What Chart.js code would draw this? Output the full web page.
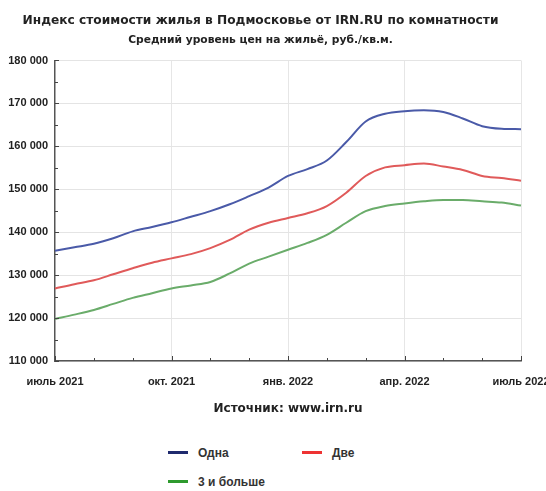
<!DOCTYPE html>
<html lang="ru">
<head>
<meta charset="utf-8">
<script src="https://cdn.jsdelivr.net/npm/chart.js@4.4.1/dist/chart.umd.min.js"></script>
<style>
  html, body { margin: 0; padding: 0; background: #fff; }
  #wrap { position: relative; width: 546px; height: 491px; }
  #chart-box { position: absolute; left: 0; top: 0; width: 546px; height: 420px; }
  .legend-item { position: absolute; font: bold 12px "Liberation Sans", Arial, sans-serif; color: #333; white-space: nowrap; }
  .legend-item span { display: inline-block; width: 20px; height: 3px; vertical-align: middle; margin-right: 10px; position: relative; top: -1px; }
</style>
</head>
<body>
<div id="wrap">
  <div id="chart-box"><canvas id="priceChart"></canvas></div>
  <div id="legend"></div>
</div>
<script>
// semi-monthly points, July 2021 - July 2022
const periods = [
  '2021-07-01', '2021-07-15', '2021-08-01', '2021-08-15', '2021-09-01', '2021-09-15',
  '2021-10-01', '2021-10-15', '2021-11-01', '2021-11-15', '2021-12-01', '2021-12-15',
  '2022-01-01', '2022-01-15', '2022-02-01', '2022-02-15', '2022-03-01', '2022-03-15',
  '2022-04-01', '2022-04-15', '2022-05-01', '2022-05-15', '2022-06-01', '2022-06-15',
  '2022-07-01'
];
const quarterLabels = ['июль 2021', 'окт. 2021', 'янв. 2022', 'апр. 2022', 'июль 2022'];

const oneRoom = [
  135700, 136500, 137300, 138600, 140200, 141200, 142300, 143600, 144900, 146500,
  148400, 150400, 153100, 154700, 156700, 161000, 165800, 167600, 168200, 168400,
  168000, 166500, 164700, 164100, 164000
];
const twoRooms = [
  126900, 127900, 128800, 130200, 131600, 132900, 133900, 134900, 136300, 138200,
  140600, 142200, 143300, 144400, 146100, 149200, 153100, 155100, 155600, 156000,
  155300, 154500, 153100, 152600, 152000
];
const threePlus = [
  119800, 120800, 121900, 123300, 124700, 125800, 126900, 127600, 128400, 130400,
  132700, 134300, 135900, 137500, 139400, 142200, 144900, 146100, 146700, 147200,
  147500, 147500, 147200, 146900, 146200
];

const seriesNames = ['Одна', 'Две', '3 и больше'];
const lineColors = ['#4a5aa8', '#e05a5a', '#6aac6a'];
const legendColors = ['#1f2a6e', '#ee3333', '#2e9a2e'];

const narrow = '"Liberation Sans Narrow", "Liberation Sans", Arial, sans-serif';
const dejavu = '"DejaVu Sans", Verdana, sans-serif';

// small inner tick marks on both axes
const innerTicks = {
  id: 'innerTicks',
  afterDraw(chart) {
    const { ctx, chartArea, scales } = chart;
    ctx.save();
    ctx.strokeStyle = '#444';
    ctx.lineWidth = 1;
    for (let v = 110000; v <= 180000; v += 5000) {
      const y = Math.round(scales.y.getPixelForValue(v)) + 0.5;
      ctx.beginPath();
      ctx.moveTo(chartArea.left, y);
      ctx.lineTo(chartArea.left + (v % 10000 === 0 ? 4 : 3), y);
      ctx.stroke();
    }
    for (let i = 0; i < periods.length; i += 2) {
      const x = Math.round(scales.x.getPixelForValue(i)) + 0.5;
      ctx.beginPath();
      ctx.moveTo(x, chartArea.bottom);
      ctx.lineTo(x, chartArea.bottom - (i % 6 === 0 ? 5 : 3));
      ctx.stroke();
    }
    ctx.restore();
  }
};

const chart = new Chart(document.getElementById('priceChart'), {
  type: 'line',
  data: {
    labels: periods,
    datasets: [oneRoom, twoRooms, threePlus].map((d, i) => ({
      label: seriesNames[i],
      data: d,
      borderColor: lineColors[i],
      backgroundColor: lineColors[i],
      borderWidth: 2,
      pointRadius: 0,
      cubicInterpolationMode: 'monotone'
    }))
  },
  options: {
    responsive: true,
    maintainAspectRatio: false,
    animation: false,
    layout: { padding: { top: 0, right: 25, bottom: 4, left: 0 } },
    plugins: {
      legend: { display: false },
      tooltip: { enabled: false },
      title: {
        display: true,
        text: 'Индекс стоимости жилья в Подмосковье от IRN.RU по комнатности',
        color: '#222',
        font: { family: dejavu, size: 12.2, weight: 'bold' },
        padding: { top: 14, bottom: 3 }
      },
      subtitle: {
        display: true,
        text: 'Средний уровень цен на жильё, руб./кв.м.',
        color: '#222',
        font: { family: dejavu, size: 10.7, weight: 'bold' },
        padding: { top: 2, bottom: 14 }
      }
    },
    scales: {
      x: {
        offset: false,
        afterFit(scale) { scale.height = 55; scale.paddingLeft = 0; scale.paddingRight = 0; },
        grid: {
          color: ctx => ctx.index % 6 === 0 && ctx.index > 0 ? '#e6e6e6' : 'transparent',
          drawTicks: false
        },
        border: { color: '#555', width: 1.5 },
        ticks: {
          autoSkip: false,
          maxRotation: 0,
          padding: 14,
          color: '#222',
          font: { family: narrow, size: 11, weight: 'bold' },
          callback: (v, i) => i % 6 === 0 ? quarterLabels[i / 6] : ''
        },
        title: {
          display: true,
          text: 'Источник: www.irn.ru',
          color: '#222',
          font: { family: dejavu, size: 12, weight: 'bold' },
          padding: { top: 10, bottom: 0 }
        }
      },
      y: {
        min: 110000,
        max: 180000,
        afterFit(scale) { scale.width = 55; scale.paddingTop = 0; scale.paddingBottom = 0; },
        grid: { color: '#e4e4e4', drawTicks: false },
        border: { color: '#555', width: 1.5 },
        ticks: {
          stepSize: 10000,
          padding: 7,
          color: '#222',
          font: { family: narrow, size: 11, weight: 'bold' },
          callback: v => String(v).replace(/\B(?=(\d{3})+(?!\d))/g, ' ')
        }
      }
    }
  },
  plugins: [innerTicks]
});

// legend below the chart, two columns
const legendPos = [[168, 446], [302, 446], [168, 475]];
document.getElementById('legend').innerHTML = seriesNames.map((n, i) =>
  `<div class="legend-item" style="left:${legendPos[i][0]}px;top:${legendPos[i][1]}px">` +
  `<span style="background:${legendColors[i]}"></span>${n}</div>`
).join('');
</script>
</body>
</html>
